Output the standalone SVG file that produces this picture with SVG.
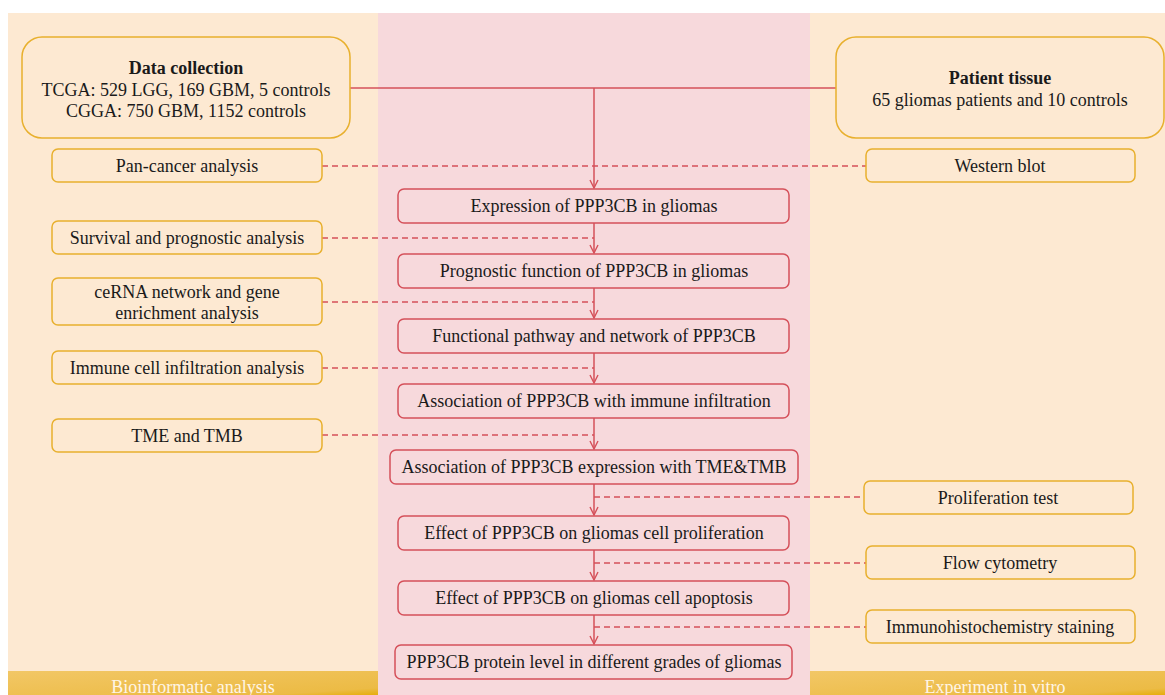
<svg xmlns="http://www.w3.org/2000/svg" width="1165" height="695" viewBox="0 0 1165 695" font-family="'Liberation Serif', 'Times New Roman', serif">
<defs>
<linearGradient id="band" x1="0" y1="0" x2="1" y2="1">
<stop offset="0" stop-color="#f2c766"/>
<stop offset="0.85" stop-color="#ecbb45"/>
<stop offset="1" stop-color="#e6ad0c"/>
</linearGradient>
<marker id="arr" viewBox="0 0 10 10" refX="9" refY="5" markerWidth="10" markerHeight="10" markerUnits="userSpaceOnUse" orient="auto">
<path d="M1,1 L9,5 L1,9" fill="none" stroke="#d5505a" stroke-width="1.4"/>
</marker>
<style>
.y{fill:#fde9d2;stroke:#e8b02e;stroke-width:1.5}
.r{fill:#f7d9dc;stroke:#d5505a;stroke-width:1.5}
text{font-family:'Liberation Serif','Times New Roman',serif;font-size:18px;fill:#1a1a1a;text-anchor:middle}
.b{font-weight:bold}
.w{fill:#fff5e6;font-size:18px}
.s{stroke:#d5505a;stroke-width:1.5;fill:none}
.d{stroke:#d5505a;stroke-width:1.3;fill:none;stroke-dasharray:6,4}
</style>
</defs>
<rect x="0" y="0" width="1165" height="695" fill="#ffffff"/>
<g id="panels">
<rect x="8" y="13" width="370" height="682" fill="#fde9d2"/>
<rect x="378" y="13" width="432" height="682" fill="#f7d9dc"/>
<rect x="810" y="13" width="355" height="682" fill="#fde9d2"/>
<rect x="8" y="671" width="370" height="24" fill="url(#band)"/>
<rect x="810" y="671" width="355" height="24" fill="url(#band)"/>
<text class="w" x="193" y="693">Bioinformatic analysis</text>
<text class="w" x="995" y="693">Experiment in vitro</text>
</g>
<g id="connectors">
<path class="s" d="M350,88 H836"/>
<path class="s" d="M594,88 V188" marker-end="url(#arr)"/>
<path class="d" d="M322,166 H866"/>
<path class="s" d="M594,223 V253" marker-end="url(#arr)"/>
<path class="d" d="M322,238 H594"/>
<path class="s" d="M594,288 V318" marker-end="url(#arr)"/>
<path class="d" d="M322,302 H594"/>
<path class="s" d="M594,353 V383" marker-end="url(#arr)"/>
<path class="d" d="M322,368 H594"/>
<path class="s" d="M594,418 V449" marker-end="url(#arr)"/>
<path class="d" d="M322,435 H594"/>
<path class="s" d="M594,484 V515" marker-end="url(#arr)"/>
<path class="d" d="M594,497 H864"/>
<path class="s" d="M594,550 V580" marker-end="url(#arr)"/>
<path class="d" d="M594,563 H866"/>
<path class="s" d="M594,615 V644" marker-end="url(#arr)"/>
<path class="d" d="M594,627 H866"/>
</g>
<g id="data-collection">
<rect class="y" x="22" y="37" width="328" height="101" rx="20"/>
<text class="b" x="186" y="74">Data collection</text>
<text x="186" y="96">TCGA: 529 LGG, 169 GBM, 5 controls</text>
<text x="186" y="117">CGGA: 750 GBM, 1152 controls</text>
</g>
<g id="patient-tissue">
<rect class="y" x="836" y="37" width="328" height="101" rx="20"/>
<text class="b" x="1000" y="84">Patient tissue</text>
<text x="1000" y="106">65 gliomas patients and 10 controls</text>
</g>
<g id="pan-cancer">
<rect class="y" x="52" y="149" width="270" height="33" rx="6"/>
<text x="187" y="172">Pan-cancer analysis</text>
</g>
<g id="western-blot">
<rect class="y" x="866" y="149" width="269" height="33" rx="6"/>
<text x="1000" y="172">Western blot</text>
</g>
<g id="survival">
<rect class="y" x="52" y="221" width="270" height="33" rx="6"/>
<text x="187" y="244">Survival and prognostic analysis</text>
</g>
<g id="cerna">
<rect class="y" x="52" y="278" width="270" height="47" rx="6"/>
<text x="187" y="298">ceRNA network and gene</text>
<text x="187" y="319">enrichment analysis</text>
</g>
<g id="immune-cell">
<rect class="y" x="52" y="351" width="270" height="33" rx="6"/>
<text x="187" y="374">Immune cell infiltration analysis</text>
</g>
<g id="tme-tmb">
<rect class="y" x="52" y="419" width="270" height="33" rx="6"/>
<text x="187" y="442">TME and TMB</text>
</g>
<g id="proliferation-test">
<rect class="y" x="864" y="481" width="269" height="33" rx="6"/>
<text x="998" y="504">Proliferation test</text>
</g>
<g id="flow-cytometry">
<rect class="y" x="866" y="546" width="269" height="33" rx="6"/>
<text x="1000" y="569">Flow cytometry</text>
</g>
<g id="ihc">
<rect class="y" x="866" y="610" width="269" height="33" rx="6"/>
<text x="1000" y="633">Immunohistochemistry staining</text>
</g>
<g id="expression">
<rect class="r" x="398" y="189" width="391" height="34" rx="6"/>
<text x="594" y="212">Expression of PPP3CB in gliomas</text>
</g>
<g id="prognostic">
<rect class="r" x="398" y="254" width="391" height="34" rx="6"/>
<text x="594" y="277">Prognostic function of PPP3CB in gliomas</text>
</g>
<g id="functional">
<rect class="r" x="398" y="319" width="391" height="34" rx="6"/>
<text x="594" y="342">Functional pathway and network of PPP3CB</text>
</g>
<g id="assoc-immune">
<rect class="r" x="398" y="384" width="391" height="34" rx="6"/>
<text x="594" y="407">Association of PPP3CB with immune infiltration</text>
</g>
<g id="assoc-tme">
<rect class="r" x="390" y="450" width="408" height="34" rx="6"/>
<text x="594" y="473">Association of PPP3CB expression with TME&amp;TMB</text>
</g>
<g id="effect-proliferation">
<rect class="r" x="398" y="516" width="391" height="34" rx="6"/>
<text x="594" y="539">Effect of PPP3CB on gliomas cell proliferation</text>
</g>
<g id="effect-apoptosis">
<rect class="r" x="398" y="581" width="391" height="34" rx="6"/>
<text x="594" y="604">Effect of PPP3CB on gliomas cell apoptosis</text>
</g>
<g id="protein-level">
<rect class="r" x="395" y="645" width="397" height="34" rx="6"/>
<text x="594" y="668">PPP3CB protein level in different grades of gliomas</text>
</g>
</svg>
